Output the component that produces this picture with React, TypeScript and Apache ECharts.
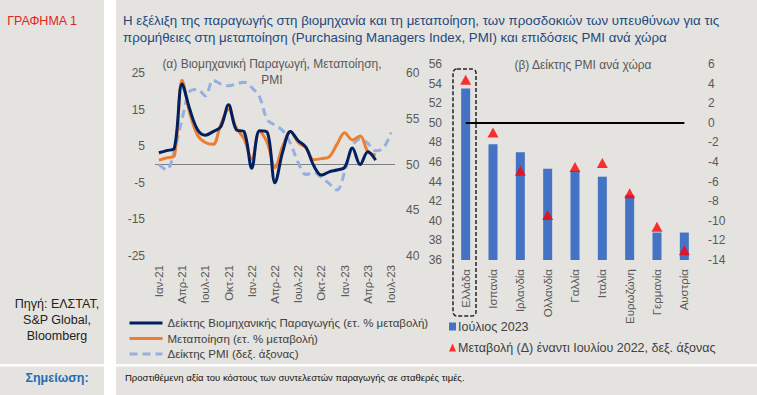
import React, { useEffect, useRef } from "react";
import * as echarts from "echarts";

// ---------- Data ----------
const months = [
  "Ιαν-21", "Φεβ-21", "Μαρ-21", "Απρ-21", "Μαϊ-21", "Ιουν-21", "Ιουλ-21", "Αυγ-21", "Σεπ-21", "Οκτ-21", "Νοε-21", "Δεκ-21",
  "Ιαν-22", "Φεβ-22", "Μαρ-22", "Απρ-22", "Μαϊ-22", "Ιουν-22", "Ιουλ-22", "Αυγ-22", "Σεπ-22", "Οκτ-22", "Νοε-22", "Δεκ-22",
  "Ιαν-23", "Φεβ-23", "Μαρ-23", "Απρ-23", "Μαϊ-23", "Ιουν-23", "Ιουλ-23",
];
const industrialProduction = [
  3.2, 3.8, 4.5, 22.0, 15.0, 9.5, 8.0, 9.0, 10.3, 16.3, 9.5, 9.0,
  -1.0, 9.2, 8.8, -5.0, 3.5, 9.0, 6.5, 4.7, -0.3, -2.9, -2.0, -1.5,
  -0.8, 4.5, 0.0, 3.5, 1.2, null, null,
];
const manufacturing = [
  1.2, 1.8, 2.4, 23.0, 14.0, 8.0, 6.0, 5.5, 11.0, 15.0, 10.0, 7.0,
  1.5, 9.0, 6.0, -0.8, 5.0, 9.0, 6.0, 4.5, 1.3, 1.6, 2.1, 5.5,
  8.7, 6.7, 7.8, 3.5, 2.6, null, null,
];
const pmiGreece = [
  50.0, 49.4, 51.5, 55.0, 58.0, 58.2, 57.5, 59.2, 58.8, 58.6, 58.8, 59.0,
  58.4, 57.4, 54.9, 54.3, 53.7, 52.3, 50.2, 48.9, 49.1, 48.6, 47.9, 47.2,
  49.2, 52.0, 52.8, 52.3, 51.5, 51.8, 53.5,
];

const countries = ["Ελλάδα", "Ισπανία", "Ιρλανδία", "Ολλανδία", "Γαλλία", "Ιταλία", "Ευρωζώνη", "Γερμανία", "Αυστρία"];
const pmiJuly2023 = [53.5, 47.8, 47.0, 45.3, 45.1, 44.5, 42.6, 38.8, 38.8];
const changeVsJuly2022 = [4.4, -1.0, -4.9, -9.4, -4.5, -4.1, -7.2, -10.6, -13.0];

const leftAxisTicks = { min: -25, max: 25, interval: 10 };
const leftRightAxisTicks = { min: 40, max: 60, interval: 5 };
const rightLeftAxisTicks = { min: 36, max: 56, interval: 2 };
const rightRightAxisTicks = { min: -14, max: 6, interval: 2 };

const FONT = "'Liberation Sans', Arial, sans-serif";
const AXIS_COLOR = "#595959";

export default function App() {
  const ref = useRef<HTMLDivElement>(null);

  useEffect(() => {
    document.body.style.margin = "0";
    if (!ref.current) return;
    const chart = echarts.init(ref.current, null, { renderer: "svg" });

    const axisLabel = { color: AXIS_COLOR, fontSize: 12, fontFamily: FONT };
    const hiddenAxisParts = {
      axisLine: { show: false },
      axisTick: { show: false },
      splitLine: { show: false },
    };

    const option: any = {
      animation: false,
      textStyle: { fontFamily: FONT },
      graphic: [
        { type: "rect", shape: { x: 0, y: 0, width: 757, height: 395 }, style: { fill: "#E4E3DF" }, z: -10 },
        { type: "rect", shape: { x: 104, y: 0, width: 12, height: 395 }, style: { fill: "#FFFFFF" }, z: -9 },
        { type: "rect", shape: { x: 0, y: 364, width: 757, height: 2.5 }, style: { fill: "#FFFFFF" }, z: -9 },
        {
          type: "text", x: 42, y: 14,
          style: { text: "ΓΡΑΦΗΜΑ 1", fill: "#E3231B", fontSize: 12.5, fontFamily: FONT, align: "center" },
        },
        {
          type: "text", x: 123, y: 12,
          style: {
            text: "Η εξέλιξη της παραγωγής στη βιομηχανία και τη μεταποίηση, των προσδοκιών των υπευθύνων για τις\nπρομήθειες στη μεταποίηση (Purchasing Managers Index, PMI) και επιδόσεις PMI ανά χώρα",
            fill: "#1F497D", fontSize: 13.3, lineHeight: 17, fontFamily: FONT,
          },
        },
        {
          type: "text", x: 57, y: 296,
          style: {
            text: "Πηγή: ΕΛΣΤΑΤ,\nS&P Global,\nBloomberg",
            fill: "#222222", fontSize: 12.5, lineHeight: 16, fontFamily: FONT, align: "center",
          },
        },
        {
          type: "text", x: 57, y: 371,
          style: { text: "Σημείωση:", fill: "#1F6DB8", fontSize: 12.5, fontWeight: "bold", fontFamily: FONT, align: "center" },
        },
        {
          type: "text", x: 125, y: 372,
          style: {
            text: "Προστιθέμενη αξία του κόστους των συντελεστών παραγωγής σε σταθερές τιμές.",
            fill: "#111111", fontSize: 9.5, fontFamily: FONT,
          },
        },
        {
          type: "text", x: 272, y: 56,
          style: {
            text: "(α) Βιομηχανική Παραγωγή, Μεταποίηση,\nPMI",
            fill: AXIS_COLOR, fontSize: 12, lineHeight: 16, fontFamily: FONT, align: "center",
          },
        },
        {
          type: "text", x: 583, y: 59,
          style: { text: "(β) Δείκτης PMI ανά χώρα", fill: AXIS_COLOR, fontSize: 12, fontFamily: FONT, align: "center" },
        },
        {
          type: "rect", shape: { x: 453, y: 69, width: 23, height: 247, r: 4 },
          style: { fill: "none", stroke: "#262626", lineWidth: 1.5, lineDash: [4, 2] }, z: 20,
        },
      ],
      legend: [
        {
          orient: "vertical", left: 123, top: 312, itemWidth: 33, itemHeight: 12, itemGap: 3.5,
          itemStyle: { opacity: 0 },
          lineStyle: { width: 3 },
          textStyle: { color: "#404040", fontSize: 11.5, fontFamily: FONT },
          data: [
            "Δείκτης Βιομηχανικής Παραγωγής (ετ. % μεταβολή)",
            "Μεταποίηση (ετ. % μεταβολή)",
            "Δείκτης PMI (δεξ. άξονας)",
          ],
        },
        {
          orient: "vertical", left: 449, top: 320, itemWidth: 7, itemHeight: 8, itemGap: 8, padding: 0,
          textStyle: { color: "#404040", fontSize: 12.5, fontFamily: FONT, padding: [0, 0, 0, -3] },
          data: [
            { name: "Ιούλιος 2023", icon: "rect" },
            { name: "Μεταβολή (Δ) έναντι Ιουλίου 2022, δεξ. άξονας", icon: "triangle" },
          ],
        },
      ],
      grid: [
        { left: 155, top: 73, width: 240, height: 183 },
        { left: 452, top: 64, width: 246, height: 196 },
      ],
      xAxis: [
        {
          type: "category", gridIndex: 0, data: months, boundaryGap: true, ...hiddenAxisParts,
          axisLabel: { ...axisLabel, fontSize: 11.5, rotate: 90, interval: 2, margin: 9 },
        },
        {
          type: "category", gridIndex: 1, data: countries, boundaryGap: true, ...hiddenAxisParts,
          axisLabel: { ...axisLabel, fontSize: 11.5, rotate: 90, interval: 0, margin: 9 },
        },
      ],
      yAxis: [
        { type: "value", gridIndex: 0, position: "left", ...leftAxisTicks, ...hiddenAxisParts, axisLabel: { ...axisLabel, margin: 10 } },
        { type: "value", gridIndex: 0, position: "right", ...leftRightAxisTicks, ...hiddenAxisParts, axisLabel: { ...axisLabel, margin: 11 } },
        { type: "value", gridIndex: 1, position: "left", ...rightLeftAxisTicks, ...hiddenAxisParts, axisLabel: { ...axisLabel, margin: 10 } },
        { type: "value", gridIndex: 1, position: "right", ...rightRightAxisTicks, ...hiddenAxisParts, axisLabel: { ...axisLabel, margin: 10 } },
      ],
      series: [
        {
          name: "Δείκτης PMI (δεξ. άξονας)", type: "line", xAxisIndex: 0, yAxisIndex: 1, data: pmiGreece,
          symbol: "none", smooth: 0.35, lineStyle: { color: "#95B0E0", width: 3, type: [8, 5] },
          itemStyle: { color: "#95B0E0" }, z: 2,
        },
        {
          name: "Μεταποίηση (ετ. % μεταβολή)", type: "line", xAxisIndex: 0, yAxisIndex: 0, data: manufacturing,
          symbol: "none", smooth: 0.35, lineStyle: { color: "#ED7D31", width: 3 }, itemStyle: { color: "#ED7D31" }, z: 3,
        },
        {
          name: "Δείκτης Βιομηχανικής Παραγωγής (ετ. % μεταβολή)", type: "line", xAxisIndex: 0, yAxisIndex: 0,
          data: industrialProduction, symbol: "none", smooth: 0.35,
          lineStyle: { color: "#002060", width: 3 }, itemStyle: { color: "#002060" }, z: 4,
          markLine: {
            silent: true, symbol: "none", label: { show: false },
            lineStyle: { color: "#7F7F7F", width: 1, type: "solid" },
            data: [{ yAxis: 0 }], z: 1,
          },
        },
        {
          name: "Ιούλιος 2023", type: "bar", xAxisIndex: 1, yAxisIndex: 2, data: pmiJuly2023,
          barWidth: 9, itemStyle: { color: "#4472C4" },
          markLine: {
            silent: true, symbol: "none", label: { show: false },
            lineStyle: { color: "#000000", width: 2, type: "solid" },
            data: [[{ coord: [countries[0], 50] }, { coord: [countries[countries.length - 1], 50] }]],
          },
        },
        {
          name: "Μεταβολή (Δ) έναντι Ιουλίου 2022, δεξ. άξονας", type: "scatter", xAxisIndex: 1, yAxisIndex: 3,
          data: changeVsJuly2022, symbol: "triangle", symbolSize: [11, 10], itemStyle: { color: "#FF0000" }, z: 5,
        },
      ],
    };

    chart.setOption(option);
    return () => chart.dispose();
  }, []);

  return <div ref={ref} style={{ width: 757, height: 395 }} />;
}
